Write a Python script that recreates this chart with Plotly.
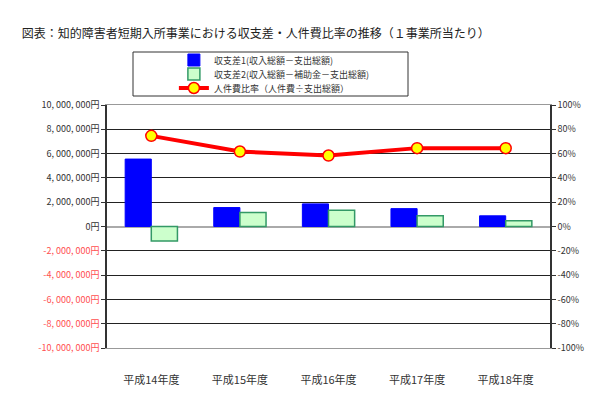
import plotly.graph_objs as go

years = ['平成14年度', '平成15年度', '平成16年度', '平成17年度', '平成18年度']
diff1 = [5550000, 1560000, 1860000, 1470000, 880000]
diff2 = [-1200000, 1150000, 1340000, 880000, 470000]
ratio = [74.6, 61.7, 58.4, 64.5, 64.5]

yen_ticks = [10000000, 8000000, 6000000, 4000000, 2000000, 0,
             -2000000, -4000000, -6000000, -8000000, -10000000]
pct_ticks = [100, 80, 60, 40, 20, 0, -20, -40, -60, -80, -100]


def yen_label(v):
    text = '{:,}'.format(v).replace(',', ', ') + '円'
    if v < 0:
        return '<span style="color:#ff5050">' + text + '</span>'
    return text


font = 'Noto Sans CJK JP'

fig = go.Figure()
fig.add_trace(go.Bar(
    x=years, y=diff1, name='収支差1(収入総額－支出総額)', legend='legend',
    marker=dict(color='#0000ff', line=dict(color='#0000ff', width=1)),
))
fig.add_trace(go.Bar(
    x=years, y=diff2, name='収支差2(収入総額－補助金－支出総額)', legend='legend2',
    marker=dict(color='#ccffcc', line=dict(color='#339966', width=1.5)),
))
fig.add_trace(go.Scatter(
    x=years, y=ratio, name='人件費比率（人件費÷支出総額）', yaxis='y2',
    legend='legend3', mode='lines+markers',
    line=dict(color='#ff0000', width=4),
    marker=dict(size=11, color='#ffff00', line=dict(color='#ff0000', width=1.5)),
))

# page body has an 8px margin, so the figure is shifted by 8px on screen
leg = dict(x=0.151, xanchor='left', yanchor='middle', bgcolor='rgba(0,0,0,0)',
           font=dict(size=9, color='#333333'), itemwidth=30)

fig.update_layout(
    width=603, height=418,
    margin=dict(l=99, r=61, t=97, b=78, autoexpand=False),
    paper_bgcolor='white', plot_bgcolor='white',
    font=dict(family=font, size=10, color='#333333'),
    barmode='group', bargap=0.41, bargroupgap=0,
    showlegend=True,
    legend=dict(leg, y=(348 - 60) / 243),
    legend2=dict(leg, y=(348 - 74) / 243),
    legend3=dict(leg, y=(348 - 88) / 243),
    title=dict(text='図表：知的障害者短期入所事業における収支差・人件費比率の推移（１事業所当たり）',
               x=0.023, y=0.938, xanchor='left', yanchor='middle',
               font=dict(size=12, color='#222222')),
    xaxis=dict(showline=True, linecolor='#999999', mirror=True,
               ticks='', ticklabelstandoff=22,
               tickfont=dict(size=11, color='#333333')),
    yaxis=dict(range=[-10000000, 10000000], tickvals=yen_ticks,
               ticktext=[yen_label(v) for v in yen_ticks],
               showgrid=True, gridcolor='#222222', gridwidth=1,
               zeroline=True, zerolinecolor='#aaaaaa', zerolinewidth=1.5,
               showline=True, linecolor='#333333', linewidth=1.5,
               ticks='outside', ticklen=4, tickcolor='#333333',
               tickfont=dict(size=9, color='#333333')),
    yaxis2=dict(range=[-100, 100], tickvals=pct_ticks,
                ticktext=[str(v) + '%' for v in pct_ticks],
                overlaying='y', side='right', showgrid=False, zeroline=False,
                showline=True, linecolor='#333333', linewidth=1.5,
                ticks='outside', ticklen=4, tickcolor='#333333',
                tickfont=dict(size=9, color='#333333')),
    shapes=[dict(type='rect', xref='paper', yref='paper',
                 x0=(133 - 107) / 443, x1=(408 - 107) / 443,
                 y0=(348 - 96) / 243, y1=(348 - 52) / 243,
                 line=dict(color='#333333', width=1))],
)

fig.write_html('out.html')
